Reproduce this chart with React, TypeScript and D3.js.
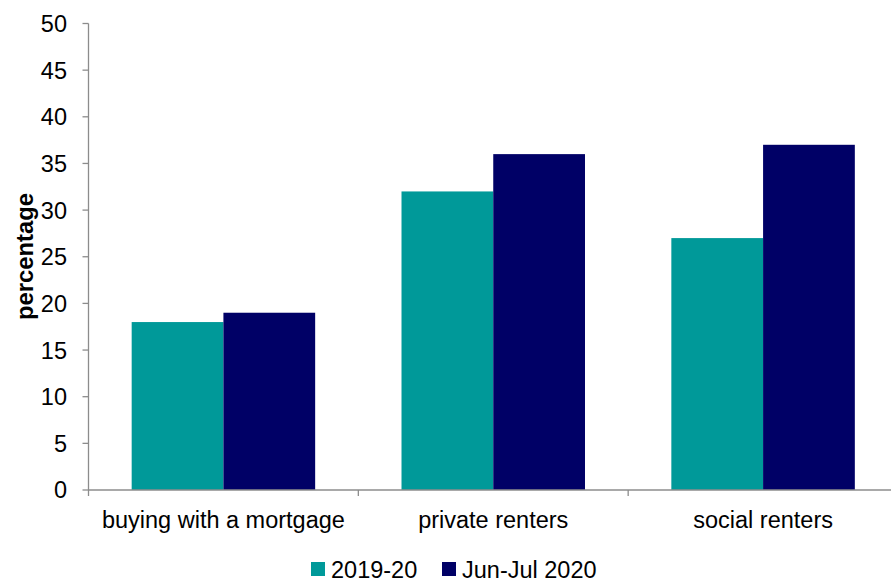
import React from 'react';
import * as d3 from 'd3';

// chart data
const categories = ['buying with a mortgage', 'private renters', 'social renters'];
const seriesNames = ['2019-20', 'Jun-Jul 2020'];
const values2019 = [18, 32, 27];
const valuesJun2020 = [19, 36, 37];
const yTicks = [0, 5, 10, 15, 20, 25, 30, 35, 40, 45, 50];

const colors = ['#009999', '#000066'];

const App: React.FC = () => {
  const width = 891;
  const height = 580;
  const left = 88.5;
  const right = 898; // plot area runs past the image edge in the original
  const top = 23.5;
  const bottom = 490;
  const font = 'Liberation Sans, Arial, sans-serif';
  const axisColor = '#8c8c8c';
  const fs = 23.5;

  const x = d3.scaleBand<string>().domain(categories).range([left, right]).paddingInner(0.32).paddingOuter(0.16);
  const xInner = d3.scaleBand<string>().domain(seriesNames).range([0, x.bandwidth()]);
  const y = d3.scaleLinear().domain([0, 50]).range([bottom, top]);

  const series = [values2019, valuesJun2020];
  const step = x.step();

  return (
    <svg width={width} height={height} style={{ position: 'absolute', left: 0, top: 0 }}>
      <rect width={width} height={height} fill="#fff" />
      {/* bars */}
      {series.map((vals, si) =>
        categories.map((c, ci) => (
          <rect
            key={`${si}-${ci}`}
            x={(x(c) ?? 0) + (xInner(seriesNames[si]) ?? 0)}
            y={y(vals[ci])}
            width={xInner.bandwidth()}
            height={bottom - y(vals[ci])}
            fill={colors[si]}
          />
        ))
      )}
      {/* y axis */}
      <line x1={left} x2={left} y1={top} y2={bottom} stroke={axisColor} strokeWidth={1.3} />
      {yTicks.map(t => (
        <g key={t}>
          <line x1={left - 6} x2={left} y1={y(t)} y2={y(t)} stroke={axisColor} strokeWidth={1.3} />
          <text x={67} y={y(t)} dy="0.36em" textAnchor="end" fontFamily={font} fontSize={fs} fill="#000">
            {t}
          </text>
        </g>
      ))}
      {/* x axis */}
      <line x1={left} x2={right} y1={bottom} y2={bottom} stroke={axisColor} strokeWidth={1.3} />
      {d3.range(categories.length + 1).map(i => (
        <line key={i} x1={left + i * step} x2={left + i * step} y1={bottom} y2={bottom + 6} stroke={axisColor} strokeWidth={1.3} />
      ))}
      {categories.map(c => (
        <text key={c} x={(x(c) ?? 0) + x.bandwidth() / 2} y={528} textAnchor="middle" fontFamily={font} fontSize={fs} fill="#000">
          {c}
        </text>
      ))}
      {/* y label */}
      <text
        transform="translate(32.5,256.5) rotate(-90)"
        textAnchor="middle"
        fontFamily={font}
        fontSize={23.8}
        fontWeight="bold"
        fill="#000"
      >
        percentage
      </text>
      {/* legend */}
      <rect x={311} y={562} width={14} height={14} fill={colors[0]} />
      <text x={331} y={578} fontFamily={font} fontSize={fs} fill="#000">{seriesNames[0]}</text>
      <rect x={442} y={562} width={14} height={14} fill={colors[1]} />
      <text x={462} y={578} fontFamily={font} fontSize={fs} fill="#000">{seriesNames[1]}</text>
    </svg>
  );
};

export default App;
